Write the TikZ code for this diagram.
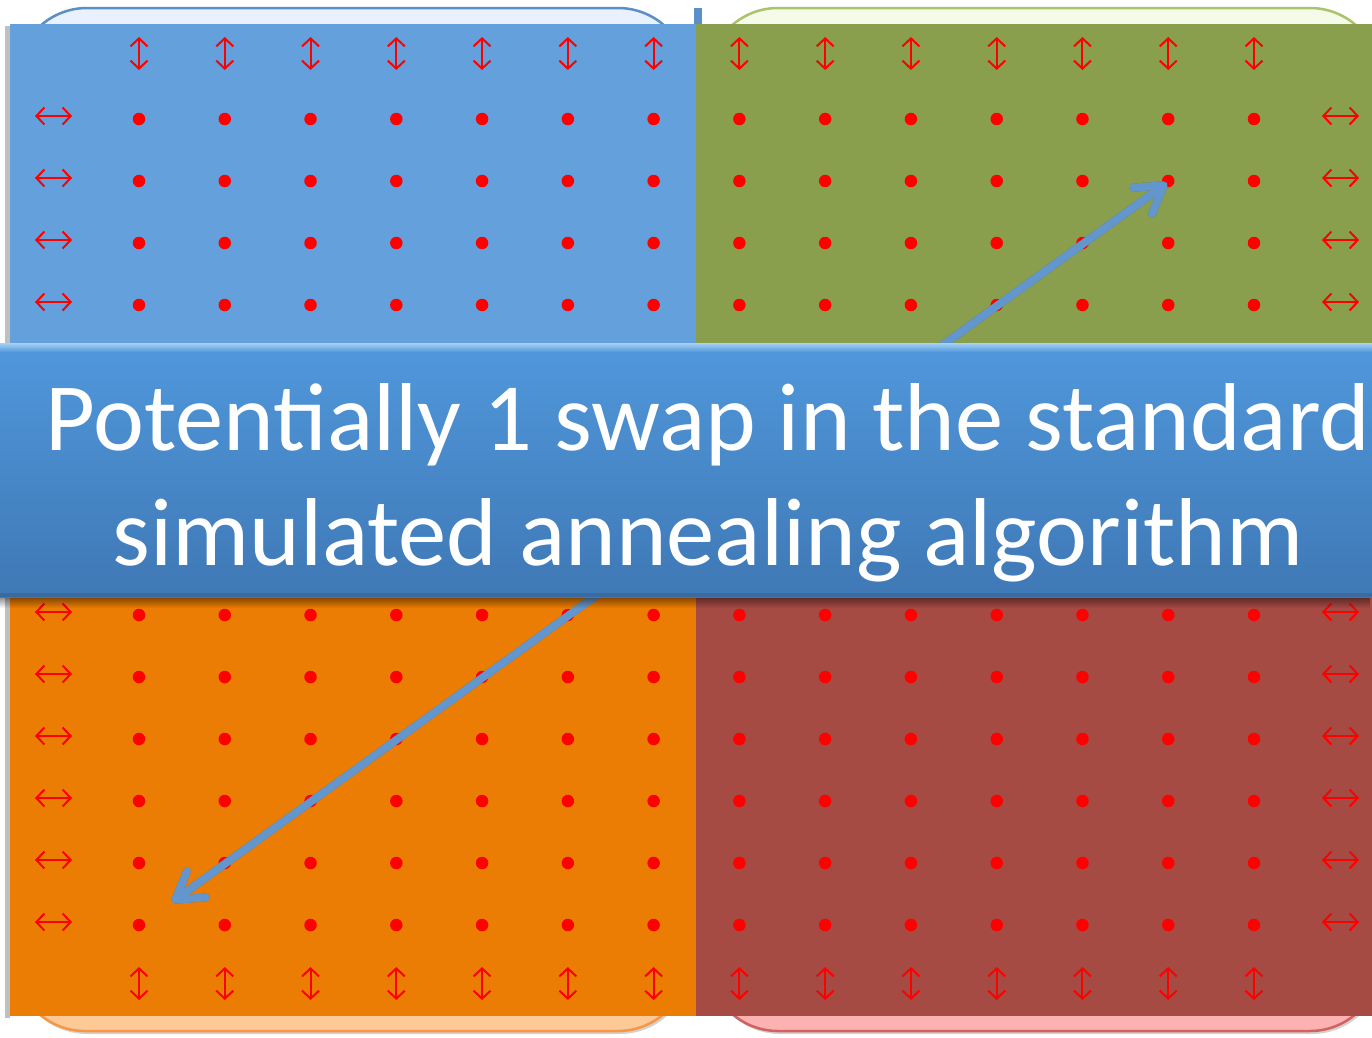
\documentclass[tikz,border=0pt]{standalone}
\usepackage{fontspec}
\setmainfont{Carlito}
\usetikzlibrary{arrows.meta,shadows,fadings}
\definecolor{qblue}{HTML}{64A0DC}
\definecolor{qgreen}{HTML}{8A9F4E}
\definecolor{qorange}{HTML}{EB7D04}
\definecolor{qred}{HTML}{A64A44}
\definecolor{dotred}{HTML}{FF0000}
\definecolor{arrowblue}{HTML}{6396CC}
\definecolor{bannertop}{HTML}{5098DC}
\definecolor{bannerbot}{HTML}{3F78B5}
\definecolor{bannerhi}{HTML}{A8D2F5}
\definecolor{banneredge}{HTML}{3A6BA0}
\definecolor{tlfill}{HTML}{E8F1FC}
\definecolor{tlline}{HTML}{5B8FC8}
\definecolor{trfill}{HTML}{F4FBE9}
\definecolor{trline}{HTML}{A9C46C}
\definecolor{blfill}{HTML}{FDC996}
\definecolor{blline}{HTML}{F79646}
\definecolor{brfill}{HTML}{FDB2B2}
\definecolor{brline}{HTML}{D2625F}
\tikzfading[name=fadedown, top color=transparent!0, bottom color=transparent!100]
\begin{document}
\begin{tikzpicture}[x=1pt,y=-1pt,
  backbox/.style={rounded corners=70pt, line width=2.5pt,
    drop shadow={shadow xshift=2pt, shadow yshift=-3pt, opacity=.35}},
  dotnode/.style={circle, fill=dotred, inner sep=0pt, minimum size=12.5pt},
  sym/.style={draw=dotred, line width=2pt,
    {Straight Barb[length=8pt,width=17pt]}-{Straight Barb[length=8pt,width=17pt]}},
  bigarrow/.style={line width=8pt, line cap=round,
    {Straight Barb[length=26pt,width=32pt,round]}-{Straight Barb[length=26pt,width=32pt,round]}},
  bannertext/.style={text=white, font=\fontsize{96.5}{116}\selectfont, inner sep=0pt, anchor=base}
]
\useasboundingbox (0,0) rectangle (1372,1037);
\fill[white] (0,0) rectangle (1372,1037);

% back rounded boxes
\path[backbox, draw=tlline, fill=tlfill] (17,8) rectangle (688,500);
\path[backbox, draw=trline, fill=trfill] (708,8) rectangle (1380,500);
\path[backbox, draw=blline, fill=blfill] (15,500) rectangle (688,1031);
\path[backbox, draw=brline, fill=brfill] (708,500) rectangle (1380,1031);
\fill[tlline] (694,8) rectangle (702,24);

% quadrants
\fill[black, opacity=.25] (5,26) rectangle (10,1018);
\fill[qblue] (10,24) rectangle (696,470);
\fill[qgreen] (696,24) rectangle (1372,470);
\fill[qorange] (10,470) rectangle (696,1016);
\fill[qred] (696,470) rectangle (1372,1016);

% dots
\foreach \i in {0,...,13}{
  \foreach \j in {0,...,13}{
    \node[dotnode] (d-\i-\j) at ({139+85.77*\i},{119+62*\j}) {};
  }
}
% vertical double arrows
\foreach \i in {0,...,13}{
  \draw[sym] ({139+85.77*\i},37) -- ({139+85.77*\i},70);
  \draw[sym] ({139+85.77*\i},967) -- ({139+85.77*\i},1000);
}
% horizontal double arrows
\foreach \j in {0,...,13}{
  \draw[sym] (35,{116+62*\j}) -- (72,{116+62*\j});
  \draw[sym] (1322,{116+62*\j}) -- (1359,{116+62*\j});
}

% swap arrow
\coordinate (swapA) at (172,902);
\coordinate (swapB) at (1167,183);
\draw[bigarrow, draw=black, opacity=.25, shift={(3,4)}] (swapA) -- (swapB);
\draw[bigarrow, draw=arrowblue] (swapA) -- (swapB);

% banner
\fill[black, opacity=.45, path fading=fadedown] (0,597) rectangle (1372,608);
\shade[top color=bannertop, bottom color=bannerbot] (0,343) rectangle (1372,597);
\shade[top color=bannerhi, bottom color=bannertop] (0,343) rectangle (1372,352);
\fill[banneredge] (0,593) rectangle (1372,597);
\node[bannertext] (line1) at (708,450) {Potentially 1 swap in the standard};
\node[bannertext] (line2) at (708,565) {simulated annealing algorithm};
\end{tikzpicture}
\end{document}
